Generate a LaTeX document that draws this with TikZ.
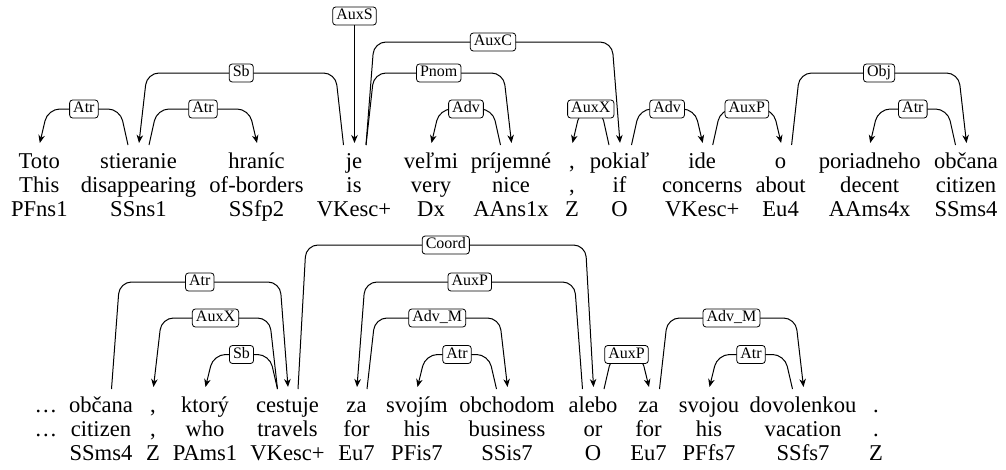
\documentclass[tikz,border=0pt]{standalone}
\usepackage{fontspec}
\setmainfont{Liberation Serif}
\usetikzlibrary{arrows.meta,calc}

\tikzset{
  word/.style={anchor=base, inner sep=0pt, font=\fontsize{22.6}{24}\selectfont},
  lab/.style={draw, fill=white, rounded corners=3pt, line width=0.8pt,
    inner xsep=3.6pt, inner ysep=1.75pt, text height=11pt, text depth=3.5pt,
    font=\fontsize{16}{18}\selectfont, anchor=center},
  dep/.style={draw, line width=1pt, rounded corners=12pt,
    -{Stealth[length=8pt,width=6.5pt,inset=2.5pt]}},
}

% #1 head word, #2 x offset of the edge start on the head,
% #3 dependent word, #4 level of the arc (from the top), #5 relation, #6 label name
\newcommand\deparc[6]{%
  \draw[dep] let \p1=([xshift=#2pt,yshift=23pt]#1.base),
                 \p2=([xshift=0.5pt,yshift=25pt]#3.base),
                 \n1={sign(\x2-\x1)} in
    (\p1) -- ({\x1+\n1*8pt}, -#4pt) -- ({\x2-\n1*8pt}, -#4pt) -- (\p2)
    node[lab] (#6) at ({(\x1+\x2)/2}, -#4pt) {#5};
}

\begin{document}
\begin{tikzpicture}[x=1pt, y=-1pt]
\useasboundingbox (0,0) rectangle (1006,469);

% ---- first sentence: word, gloss, tag ----
\foreach \n/\x/\w/\g/\t in {
  1/39.3/Toto/This/PFns1,
  2/138.5/stieranie/disappearing/SSns1,
  3/256.5/hraníc/of-borders/SSfp2,
  4/354/je/is/VKesc+,
  5/431/veľmi/very/Dx,
  6/511/príjemné/nice/AAns1x,
  7/572/{,}/{,}/Z,
  8/619.5/pokiaľ/if/O,
  9/702.2/ide/concerns/VKesc+,
  10/780.6/o/about/Eu4,
  11/869.7/poriadneho/decent/AAms4x,
  12/966/občana/citizen/SSms4}{
  \node[word] (tw\n) at (\x,168) {\w};
  \node[word] (tg\n) at (\x,192) {\g};
  \node[word] (tt\n) at (\x,216) {\t};
}

% ---- second sentence ----
\node[word] (bw0) at (46,412) {…};
\node[word] (bg0) at (46,436) {…};
\foreach \n/\x/\w/\g/\t in {
  1/101/občana/citizen/SSms4,
  2/153/{,}/{,}/Z,
  3/205/ktorý/who/PAms1,
  4/287.5/cestuje/travels/VKesc+,
  5/356.5/za/for/Eu7,
  6/417/svojím/his/PFis7,
  7/507/obchodom/business/SSis7,
  8/593/alebo/or/O,
  9/648.5/za/for/Eu7,
  10/709/svojou/his/PFfs7,
  11/803/dovolenkou/vacation/SSfs7,
  12/876/{.}/{.}/Z}{
  \node[word] (bw\n) at (\x,412) {\w};
  \node[word] (bg\n) at (\x,436) {\g};
  \node[word] (bt\n) at (\x,460) {\t};
}

% ---- arcs of the first sentence ----
\node[lab] (rootS) at (354.5,16) {AuxS};
\draw[dep] (rootS) -- ([xshift=0.5pt,yshift=25pt]tw4.base);

\deparc{tw2}{-10.5}{tw1}{109}{Atr}{la1}
\deparc{tw2}{10.5}{tw3}{109}{Atr}{la2}
\deparc{tw4}{-10.5}{tw2}{73}{Sb}{la3}
\deparc{tw4}{12}{tw8}{42}{AuxC}{la4}
\deparc{tw4}{12}{tw6}{73}{Pnom}{la5}
\deparc{tw6}{-10.5}{tw5}{109}{Adv}{la6}
\deparc{tw8}{-10.5}{tw7}{109}{AuxX}{la7}
\deparc{tw8}{12}{tw9}{109}{Adv}{la8}
\deparc{tw9}{10.5}{tw10}{109}{AuxP}{la9}
\deparc{tw10}{11}{tw12}{73}{Obj}{la10}
\deparc{tw12}{-10.5}{tw11}{109}{Atr}{la11}

% ---- arcs of the second sentence ----
\deparc{bw1}{10.5}{bw4}{282}{Atr}{lb1}
\deparc{bw4}{-10}{bw2}{318}{AuxX}{lb2}
\deparc{bw4}{-10}{bw3}{354.5}{Sb}{lb3}
\deparc{bw4}{10.5}{bw8}{245}{Coord}{lb4}
\deparc{bw8}{-10.5}{bw5}{282}{AuxP}{lb5}
\deparc{bw5}{10.5}{bw7}{318}{Adv\_M}{lb6}
\deparc{bw7}{-10.5}{bw6}{354.5}{Atr}{lb7}
\deparc{bw8}{11}{bw9}{354.5}{AuxP}{lb8}
\deparc{bw9}{11}{bw11}{318}{Adv\_M}{lb9}
\deparc{bw11}{-10.5}{bw10}{354.5}{Atr}{lb10}
\end{tikzpicture}
\end{document}
